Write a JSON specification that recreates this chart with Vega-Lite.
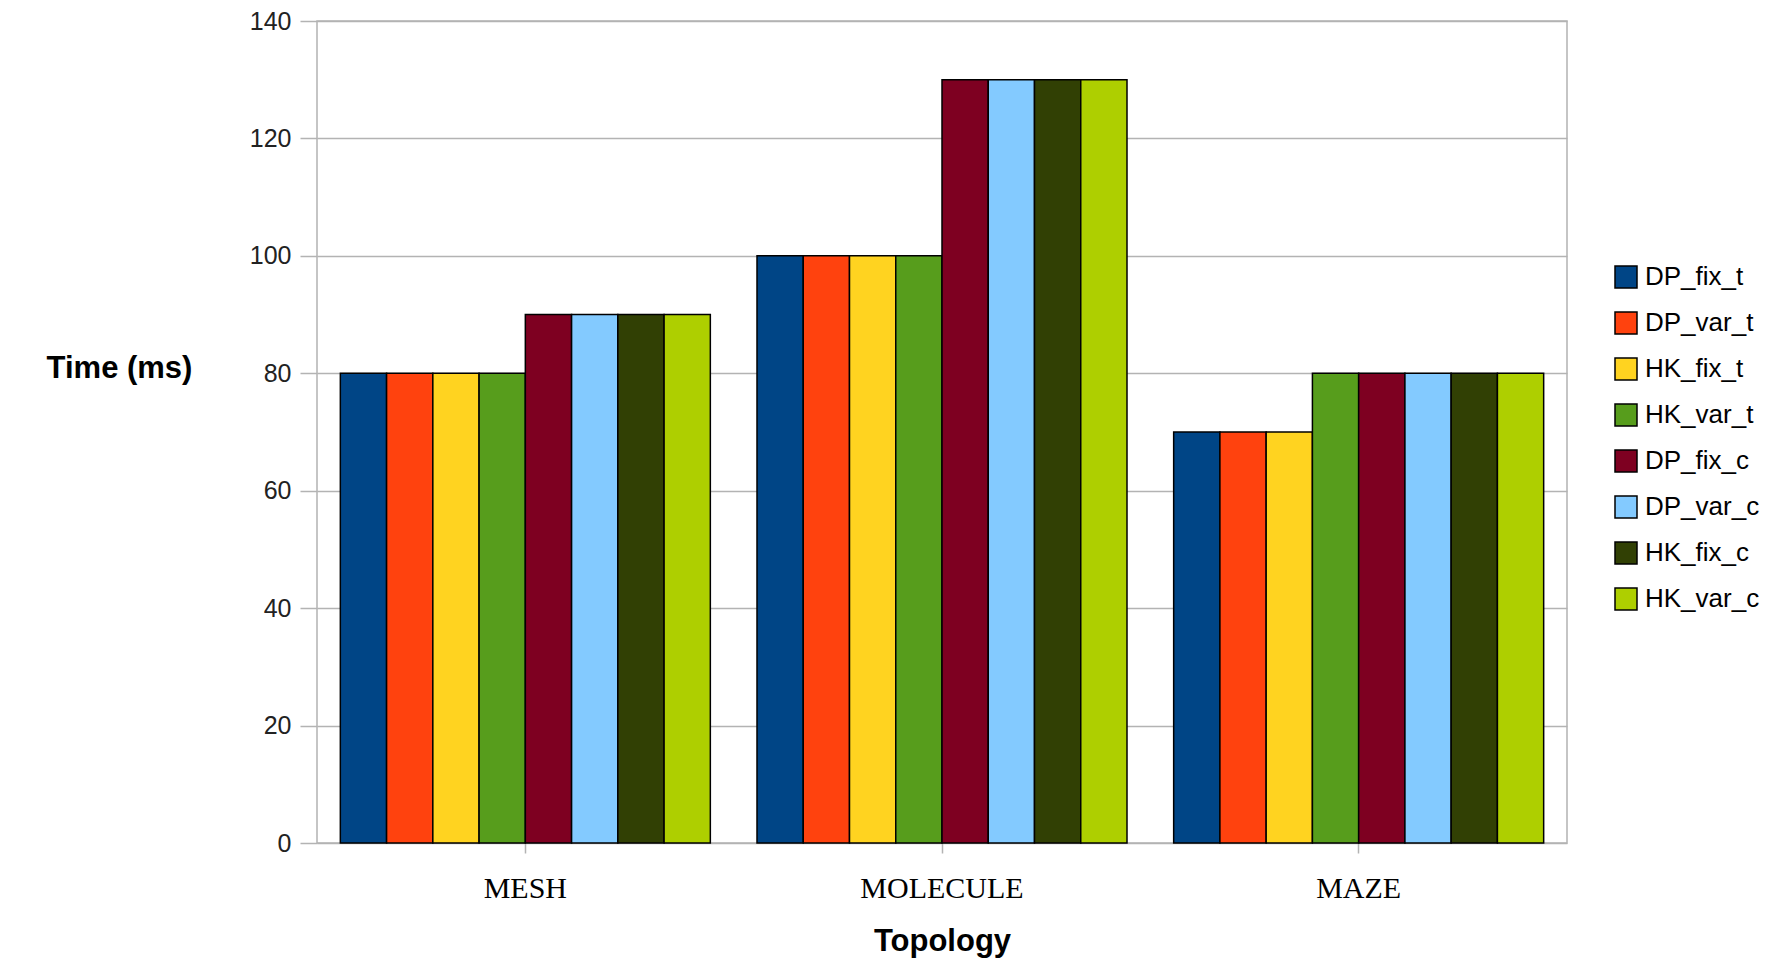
{
  "$schema": "https://vega.github.io/schema/vega-lite/v6.json",
  "width": 1250,
  "height": 822,
  "autosize": {"type": "none"},
  "padding": {"left": 317, "top": 21, "right": 209, "bottom": 127},
  "background": "white",
  "data": {
    "values": [
      {"topology": "MESH", "series": "DP_fix_t", "time": 80},
      {"topology": "MESH", "series": "DP_var_t", "time": 80},
      {"topology": "MESH", "series": "HK_fix_t", "time": 80},
      {"topology": "MESH", "series": "HK_var_t", "time": 80},
      {"topology": "MESH", "series": "DP_fix_c", "time": 90},
      {"topology": "MESH", "series": "DP_var_c", "time": 90},
      {"topology": "MESH", "series": "HK_fix_c", "time": 90},
      {"topology": "MESH", "series": "HK_var_c", "time": 90},
      {"topology": "MOLECULE", "series": "DP_fix_t", "time": 100},
      {"topology": "MOLECULE", "series": "DP_var_t", "time": 100},
      {"topology": "MOLECULE", "series": "HK_fix_t", "time": 100},
      {"topology": "MOLECULE", "series": "HK_var_t", "time": 100},
      {"topology": "MOLECULE", "series": "DP_fix_c", "time": 130},
      {"topology": "MOLECULE", "series": "DP_var_c", "time": 130},
      {"topology": "MOLECULE", "series": "HK_fix_c", "time": 130},
      {"topology": "MOLECULE", "series": "HK_var_c", "time": 130},
      {"topology": "MAZE", "series": "DP_fix_t", "time": 70},
      {"topology": "MAZE", "series": "DP_var_t", "time": 70},
      {"topology": "MAZE", "series": "HK_fix_t", "time": 70},
      {"topology": "MAZE", "series": "HK_var_t", "time": 80},
      {"topology": "MAZE", "series": "DP_fix_c", "time": 80},
      {"topology": "MAZE", "series": "DP_var_c", "time": 80},
      {"topology": "MAZE", "series": "HK_fix_c", "time": 80},
      {"topology": "MAZE", "series": "HK_var_c", "time": 80}
    ]
  },
  "mark": {"type": "bar", "stroke": "black", "strokeWidth": 1.5},
  "encoding": {
    "x": {
      "field": "topology",
      "type": "nominal",
      "sort": ["MESH", "MOLECULE", "MAZE"],
      "scale": {"paddingInner": 0.112, "paddingOuter": 0.056},
      "title": "Topology",
      "axis": {
        "labelAngle": 0,
        "labelFont": "Liberation Serif",
        "labelFontSize": 30,
        "labelColor": "black",
        "labelPadding": 20,
        "tickSize": 10,
        "tickColor": "#b3b3b3",
        "tickWidth": 1.5,
        "domain": false,
        "titleFont": "Liberation Sans",
        "titleFontSize": 31,
        "titleFontWeight": "bold",
        "titleColor": "black",
        "titleY": 98,
        "titleBaseline": "middle"
      }
    },
    "xOffset": {
      "field": "series",
      "type": "nominal",
      "sort": ["DP_fix_t", "DP_var_t", "HK_fix_t", "HK_var_t", "DP_fix_c", "DP_var_c", "HK_fix_c", "HK_var_c"],
      "scale": {"paddingInner": 0, "paddingOuter": 0}
    },
    "y": {
      "field": "time",
      "type": "quantitative",
      "scale": {"domain": [0, 140]},
      "title": "Time (ms)",
      "axis": {
        "values": [0, 20, 40, 60, 80, 100, 120, 140],
        "labelFont": "Liberation Sans",
        "labelFontSize": 25,
        "labelColor": "#222222",
        "labelPadding": 9,
        "tickSize": 17,
        "tickColor": "#b3b3b3",
        "tickWidth": 1.5,
        "gridColor": "#b3b3b3",
        "gridWidth": 1.5,
        "domain": false,
        "titleAngle": 0,
        "titleX": -198,
        "titleY": 347,
        "titleAlign": "center",
        "titleBaseline": "middle",
        "titleFont": "Liberation Sans",
        "titleFontSize": 31,
        "titleFontWeight": "bold",
        "titleColor": "black"
      }
    },
    "color": {
      "field": "series",
      "type": "nominal",
      "sort": ["DP_fix_t", "DP_var_t", "HK_fix_t", "HK_var_t", "DP_fix_c", "DP_var_c", "HK_fix_c", "HK_var_c"],
      "scale": {
        "domain": ["DP_fix_t", "DP_var_t", "HK_fix_t", "HK_var_t", "DP_fix_c", "DP_var_c", "HK_fix_c", "HK_var_c"],
        "range": ["#004586", "#ff420e", "#ffd320", "#579d1c", "#7e0021", "#83caff", "#314004", "#aecf00"]
      },
      "legend": {
        "title": null,
        "orient": "none",
        "legendX": 1296,
        "legendY": 243,
        "padding": 0,
        "symbolType": "square",
        "symbolSize": 484,
        "symbolStrokeColor": "black",
        "symbolStrokeWidth": 1.5,
        "symbolOpacity": 1,
        "labelFont": "Liberation Sans",
        "labelFontSize": 26,
        "labelColor": "black",
        "labelOffset": 6,
        "rowPadding": 18
      }
    }
  },
  "config": {"view": {"stroke": "#b3b3b3", "strokeWidth": 1.5}}
}
